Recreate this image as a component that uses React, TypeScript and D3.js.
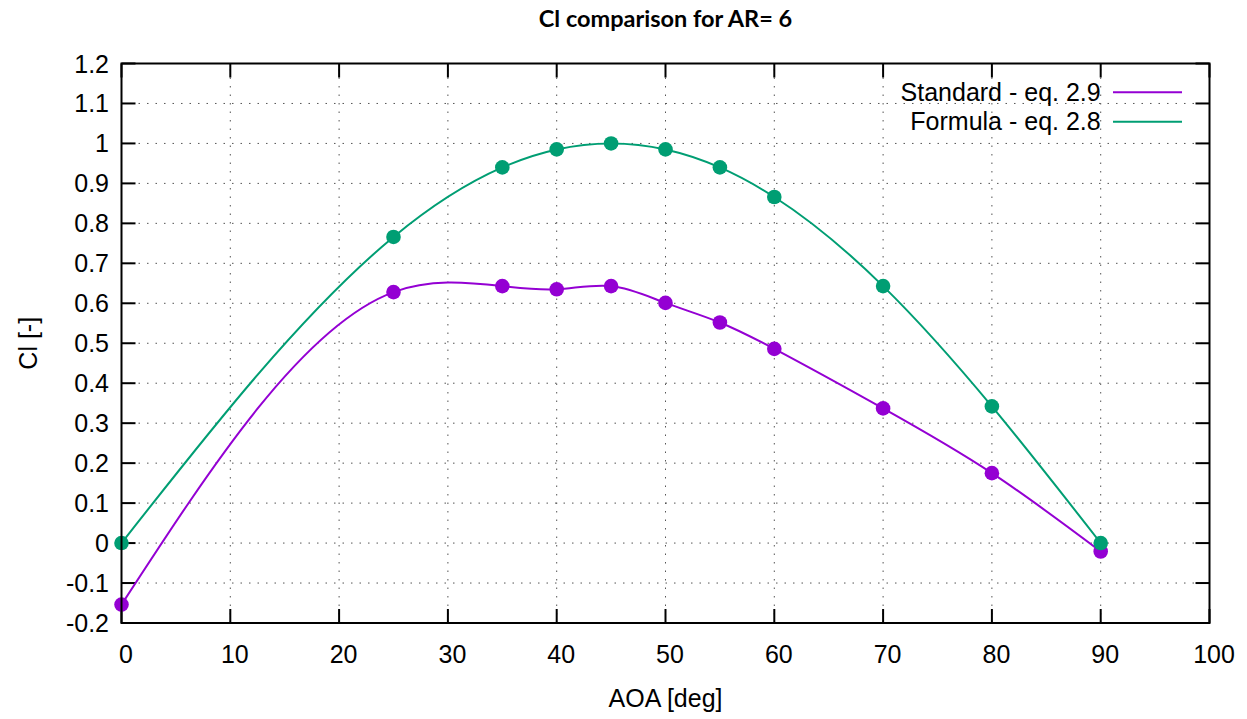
import React from 'react';
import * as d3 from 'd3';

const aoa = [0, 25, 35, 40, 45, 50, 55, 60, 70, 80, 90];
const standardCl = [-0.154, 0.628, 0.643, 0.635, 0.643, 0.601, 0.552, 0.486, 0.337, 0.175, -0.021];
const formulaCl = [0, 0.766, 0.94, 0.985, 1.0, 0.985, 0.94, 0.866, 0.643, 0.342, 0];
const xTicks = [0, 10, 20, 30, 40, 50, 60, 70, 80, 90, 100];
const yTicks = [-0.2, -0.1, 0, 0.1, 0.2, 0.3, 0.4, 0.5, 0.6, 0.7, 0.8, 0.9, 1, 1.1, 1.2];

const series = [
  { name: 'Standard - eq. 2.9', values: standardCl, color: '#9400d3' },
  { name: 'Formula - eq. 2.8', values: formulaCl, color: '#009e73' },
];

const W = 1247;
const H = 719;
const margin = { top: 63.5, right: 37.5, bottom: 96, left: 121.5 };

// natural cubic spline in x (like gnuplot "smooth csplines"), emitted as beziers
const curveCSpline = (context: any) => {
  let xs: number[] = [];
  let ys: number[] = [];
  return {
    areaStart() {},
    areaEnd() {},
    lineStart() { xs = []; ys = []; },
    point(x: number, y: number) { xs.push(+x); ys.push(+y); },
    lineEnd() {
      const n = xs.length;
      if (n === 0) return;
      context.moveTo(xs[0], ys[0]);
      if (n < 3) {
        for (let i = 1; i < n; i++) context.lineTo(xs[i], ys[i]);
        return;
      }
      const h: number[] = [];
      for (let i = 0; i < n - 1; i++) h.push(xs[i + 1] - xs[i]);
      // tridiagonal solve for second derivatives, M0 = Mn = 0
      const M = new Array(n).fill(0);
      const a: number[] = [], b: number[] = [], c: number[] = [], r: number[] = [];
      for (let i = 1; i < n - 1; i++) {
        a.push(h[i - 1]);
        b.push(2 * (h[i - 1] + h[i]));
        c.push(h[i]);
        r.push(6 * ((ys[i + 1] - ys[i]) / h[i] - (ys[i] - ys[i - 1]) / h[i - 1]));
      }
      const m = b.length;
      for (let i = 1; i < m; i++) {
        const w = a[i] / b[i - 1];
        b[i] -= w * c[i - 1];
        r[i] -= w * r[i - 1];
      }
      const sol = new Array(m).fill(0);
      sol[m - 1] = r[m - 1] / b[m - 1];
      for (let i = m - 2; i >= 0; i--) sol[i] = (r[i] - c[i] * sol[i + 1]) / b[i];
      for (let i = 0; i < m; i++) M[i + 1] = sol[i];
      for (let i = 0; i < n - 1; i++) {
        const hi = h[i];
        const s = (ys[i + 1] - ys[i]) / hi;
        const d0 = s - hi * (2 * M[i] + M[i + 1]) / 6;
        const d1 = s + hi * (M[i] + 2 * M[i + 1]) / 6;
        context.bezierCurveTo(
          xs[i] + hi / 3, ys[i] + (hi * d0) / 3,
          xs[i + 1] - hi / 3, ys[i + 1] - (hi * d1) / 3,
          xs[i + 1], ys[i + 1]
        );
      }
    },
  };
};

const fmt = (t: number) => d3.format('~g')(t).replace('\u2212', '-');

const App = () => {
  const x = d3.scaleLinear().domain([0, 100]).range([margin.left, W - margin.right]);
  const y = d3.scaleLinear().domain([-0.2, 1.2]).range([H - margin.bottom, margin.top]);
  const x0 = x.range()[0], x1 = x.range()[1];
  const y0 = y.range()[0], y1 = y.range()[1];
  const tickLen = 14;
  const font = '"Liberation Sans", Arial, sans-serif';

  const line = d3.line<number>()
    .x((_, i) => x(aoa[i]))
    .y(d => y(d))
    .curve(curveCSpline as any);

  return (
    <svg width={W} height={H} style={{ position: 'absolute', left: 0, top: 0, background: '#fff' }}>
      <text x={(x0 + x1) / 2} y={27} textAnchor="middle" fontFamily='Lato, "Open Sans", sans-serif'
        fontWeight="bold" fontSize={23.5} fill="#000">Cl comparison for AR= 6</text>

      {/* grid */}
      <g stroke="#555" strokeWidth={1} strokeDasharray="1.5 7">
        {xTicks.filter(t => t > 0 && t < 100).map(t => (
          <line key={'gx' + t} x1={x(t)} x2={x(t)} y1={y0} y2={y1} />
        ))}
        {yTicks.filter(t => t > -0.2 && t < 1.2).map(t => (
          <line key={'gy' + t} x1={x0} x2={x1} y1={y(t)} y2={y(t)} />
        ))}
      </g>

      {/* ticks on all sides */}
      <g stroke="#000" strokeWidth={2}>
        {xTicks.map(t => (
          <g key={'tx' + t}>
            <line x1={x(t)} x2={x(t)} y1={y0} y2={y0 - tickLen} />
            <line x1={x(t)} x2={x(t)} y1={y1} y2={y1 + tickLen} />
          </g>
        ))}
        {yTicks.map(t => (
          <g key={'ty' + t}>
            <line x1={x0} x2={x0 + tickLen} y1={y(t)} y2={y(t)} />
            <line x1={x1} x2={x1 - tickLen} y1={y(t)} y2={y(t)} />
          </g>
        ))}
      </g>

      {/* series */}
      {series.map(s => (
        <g key={s.name}>
          <path d={line(s.values) || ''} fill="none" stroke={s.color} strokeWidth={2} />
          {s.values.map((v, i) => (
            <circle key={i} cx={x(aoa[i])} cy={y(v)} r={7.3} fill={s.color} />
          ))}
        </g>
      ))}

      <rect x={x0} y={y1} width={x1 - x0} height={y0 - y1} fill="none" stroke="#000" strokeWidth={2} />

      {/* tick labels */}
      <g fontFamily={font} fontSize={25} fill="#000">
        {xTicks.map(t => (
          <text key={'lx' + t} x={x(t) + 4.5} y={663} textAnchor="middle">{t}</text>
        ))}
        {yTicks.map(t => (
          <text key={'ly' + t} x={109} y={y(t) + 9} textAnchor="end">{fmt(t)}</text>
        ))}
      </g>

      <text x={(x0 + x1) / 2} y={707} textAnchor="middle" fontFamily={font} fontSize={25} fill="#000">AOA [deg]</text>
      <text transform={`translate(37,${(y0 + y1) / 2}) rotate(-90)`} textAnchor="middle" fontFamily={font}
        fontSize={25} fill="#000">Cl [-]</text>

      {/* legend */}
      <g fontFamily={font} fontSize={25} fill="#000">
        {series.map((s, i) => (
          <g key={'lg' + s.name} transform={`translate(0,${92.3 + i * 29.4})`}>
            <text x={1100.7} y={8.5} textAnchor="end">{s.name}</text>
            <line x1={1113} x2={1182} y1={0} y2={0} stroke={s.color} strokeWidth={2} />
          </g>
        ))}
      </g>
    </svg>
  );
};

export default App;
